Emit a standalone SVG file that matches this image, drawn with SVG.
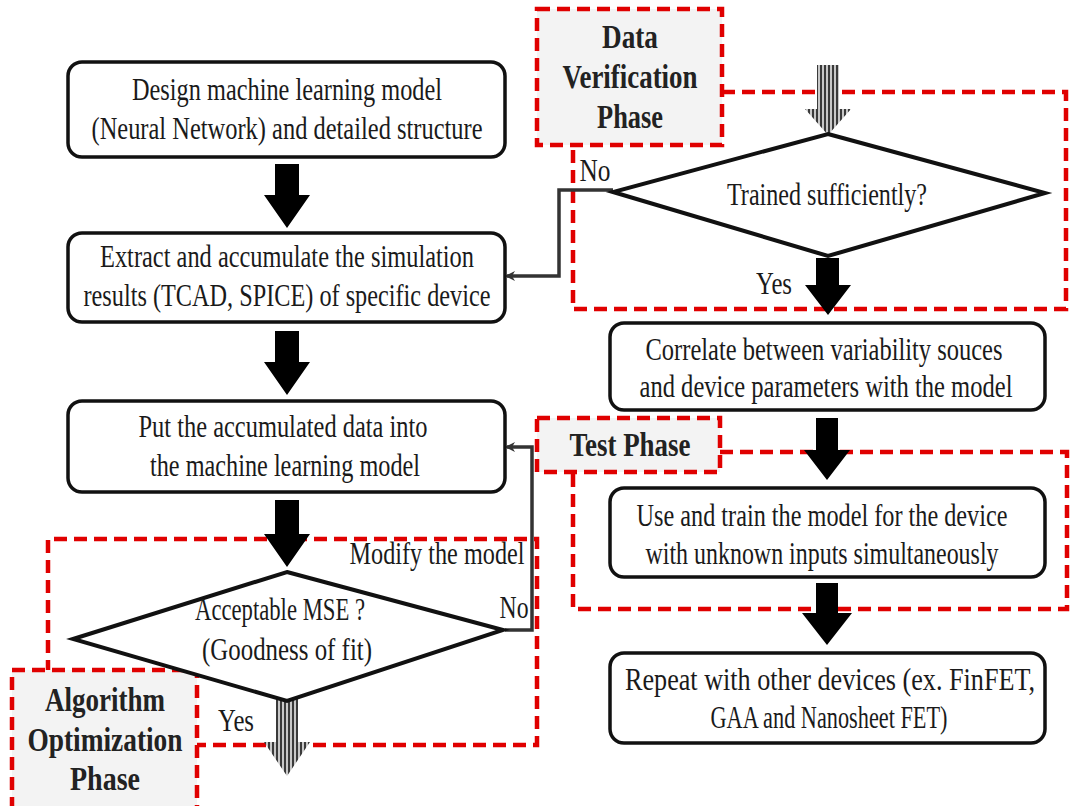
<svg xmlns="http://www.w3.org/2000/svg" width="1071" height="806" viewBox="0 0 1071 806">
<defs>
<style>
.box{fill:#fff;stroke:#111;stroke-width:3.5}
.dia{fill:#fff;stroke:#111;stroke-width:4}
.t{font-family:"Liberation Serif","Times New Roman",serif;font-size:32px;fill:#1a1a1a;text-anchor:middle}
.tb{font-family:"Liberation Serif","Times New Roman",serif;font-size:33px;font-weight:bold;fill:#222;text-anchor:middle}
.red{fill:none;stroke:#e00000;stroke-width:4.5;stroke-dasharray:13 7}
.lab{fill:#f3f3f3}
.fb{fill:none;stroke:#333;stroke-width:3.5}
.blk{fill:#000}
.gry{fill:url(#stripes)}
</style>
<pattern id="stripes" patternUnits="userSpaceOnUse" width="4" height="4">
<rect width="4" height="4" fill="#c8c8c8"/>
<rect width="2" height="4" fill="#3a3a3a"/>
</pattern>
<marker id="ah" markerWidth="10" markerHeight="10" refX="8" refY="5" orient="auto" markerUnits="userSpaceOnUse" viewBox="0 0 10 10">
<path d="M0,5 L10,0 L7,5 L10,10 Z" fill="#333" transform="rotate(180 5 5)"/>
</marker>
</defs>
<rect width="1071" height="806" fill="#fff"/>

<!-- phase regions -->
<g id="phase-algorithm">
<polyline class="red" points="197,684 48,684 48,539 537,539 537,745 197,745"/>
<rect class="lab" x="12" y="670" width="185" height="140"/>
<polyline class="red" points="12,810 12,670 197,670 197,810"/>
<text class="tb" x="105" y="711" textLength="120" lengthAdjust="spacingAndGlyphs">Algorithm</text>
<text class="tb" x="105" y="751" textLength="155" lengthAdjust="spacingAndGlyphs">Optimization</text>
<text class="tb" x="105" y="790" textLength="70" lengthAdjust="spacingAndGlyphs">Phase</text>
</g>
<g id="phase-verification">
<polyline class="red" points="722,92 1066,92 1066,309 573,309 573,145"/>
<rect class="lab" x="537" y="9" width="185" height="136"/>
<rect class="red" x="537" y="9" width="185" height="136"/>
<text class="tb" x="630" y="48" textLength="56" lengthAdjust="spacingAndGlyphs">Data</text>
<text class="tb" x="630" y="88" textLength="135" lengthAdjust="spacingAndGlyphs">Verification</text>
<text class="tb" x="630" y="128" textLength="66" lengthAdjust="spacingAndGlyphs">Phase</text>
</g>
<g id="phase-test">
<polyline class="red" points="720,452 1067,452 1067,609 573,609 573,472"/>
<rect class="lab" x="537" y="418" width="183" height="54"/>
<rect class="red" x="537" y="418" width="183" height="54"/>
<text class="tb" x="630" y="456" textLength="121" lengthAdjust="spacingAndGlyphs">Test Phase</text>
</g>

<!-- connectors -->
<g id="connectors">
<path class="blk" d="M275,164 h24 v31 h11 l-23,33 l-23,-33 h11 z"/>
<path class="blk" d="M275,331 h24 v31 h11 l-23,33 l-23,-33 h11 z"/>
<path class="blk" d="M275,500 h24 v34 h11 l-23,33 l-23,-33 h11 z"/>
<path class="gry" d="M276,697 h22 v45 h12 l-23,34 l-23,-34 h12 z"/>
<path class="gry" d="M817,65 h22 v44 h12 l-23,26 l-23,-26 h12 z"/>
<path class="blk" d="M816,258 h23 v27 h12 l-23,30 l-23,-30 h11 z"/>
<path class="blk" d="M816,418 h22 v32 h12 l-23,30 l-23,-30 h12 z"/>
<path class="blk" d="M816,583 h22 v30 h14 l-25,32 l-25,-32 h14 z"/>
<polyline class="fb" points="613,190 559,190 559,276 507,276" marker-end="url(#ah)"/>
<polyline class="fb" points="505,630 532,630 532,447 507,447" marker-end="url(#ah)"/>
<text class="t" x="595" y="181" textLength="31" lengthAdjust="spacingAndGlyphs">No</text>
<text class="t" x="774" y="294" textLength="36" lengthAdjust="spacingAndGlyphs">Yes</text>
<text class="t" x="514" y="618" textLength="29" lengthAdjust="spacingAndGlyphs">No</text>
<text class="t" x="236" y="731" textLength="36" lengthAdjust="spacingAndGlyphs">Yes</text>
<text class="t" x="437" y="564" textLength="175" lengthAdjust="spacingAndGlyphs">Modify the model</text>
</g>

<!-- nodes -->
<g id="n-design">
<rect class="box" x="68" y="62" width="437" height="95" rx="14"/>
<text class="t" x="287" y="100" textLength="310" lengthAdjust="spacingAndGlyphs">Design machine learning model</text>
<text class="t" x="287" y="139" textLength="391" lengthAdjust="spacingAndGlyphs">(Neural Network) and detailed structure</text>
</g>
<g id="n-extract">
<rect class="box" x="68" y="233" width="437" height="89" rx="14"/>
<text class="t" x="287" y="267" textLength="374" lengthAdjust="spacingAndGlyphs">Extract and accumulate the simulation</text>
<text class="t" x="287" y="306" textLength="407" lengthAdjust="spacingAndGlyphs">results (TCAD, SPICE) of specific device</text>
</g>
<g id="n-put">
<rect class="box" x="68" y="401" width="437" height="91" rx="14"/>
<text class="t" x="283" y="437" textLength="289" lengthAdjust="spacingAndGlyphs">Put the accumulated data into</text>
<text class="t" x="285" y="476" textLength="270" lengthAdjust="spacingAndGlyphs">the machine learning model</text>
</g>
<g id="n-mse">
<polygon class="dia" points="287,572 503,630 287,701 73,639"/>
<text class="t" x="280" y="620" textLength="170" lengthAdjust="spacingAndGlyphs">Acceptable MSE ?</text>
<text class="t" x="287" y="660" textLength="170" lengthAdjust="spacingAndGlyphs">(Goodness of fit)</text>
</g>
<g id="n-trained">
<polygon class="dia" points="828,134 1045,193 828,256 613,192"/>
<text class="t" x="827" y="205" textLength="200" lengthAdjust="spacingAndGlyphs">Trained sufficiently?</text>
</g>
<g id="n-correlate">
<rect class="box" x="610" y="323" width="435" height="87" rx="14"/>
<text class="t" x="824" y="360" textLength="357" lengthAdjust="spacingAndGlyphs">Correlate between variability souces</text>
<text class="t" x="826" y="397" textLength="373" lengthAdjust="spacingAndGlyphs">and device parameters with the model</text>
</g>
<g id="n-use">
<rect class="box" x="610" y="488" width="435" height="89" rx="14"/>
<text class="t" x="822" y="526" textLength="371" lengthAdjust="spacingAndGlyphs">Use and train the model for the device</text>
<text class="t" x="822" y="564" textLength="353" lengthAdjust="spacingAndGlyphs">with unknown inputs simultaneously</text>
</g>
<g id="n-repeat">
<rect class="box" x="610" y="653" width="435" height="90" rx="14"/>
<text class="t" x="830" y="690" textLength="410" lengthAdjust="spacingAndGlyphs">Repeat with other devices (ex. FinFET,</text>
<text class="t" x="829" y="728" textLength="237" lengthAdjust="spacingAndGlyphs">GAA and Nanosheet FET)</text>
</g>
</svg>
